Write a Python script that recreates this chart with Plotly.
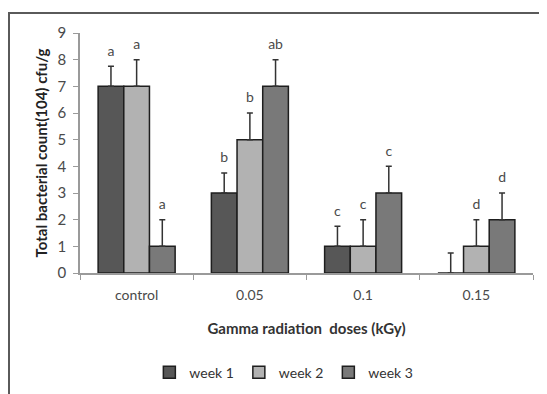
import plotly.graph_objects as go

categories = ["control", "0.05", "0.1", "0.15"]
weeks = ["week 1", "week 2", "week 3"]
values = {
    "week 1": [7, 3, 1, 0],
    "week 2": [7, 5, 1, 1],
    "week 3": [1, 7, 3, 2],
}
errors = {
    "week 1": [0.75, 0.75, 0.75, 0.75],
    "week 2": [1, 1, 1, 1],
    "week 3": [1, 1, 1, 1],
}
letters = {
    "week 1": ["a", "b", "c", ""],
    "week 2": ["a", "b", "c", "d"],
    "week 3": ["a", "ab", "c", "d"],
}
colors = {"week 1": "#575757", "week 2": "#b2b2b2", "week 3": "#797979"}

FONT = "Lato, 'Open Sans', sans-serif"

fig = go.Figure()
for w in weeks:
    fig.add_trace(go.Bar(
        x=categories, y=values[w], name=w,
        marker=dict(color=colors[w], line=dict(color="#1e1e1e", width=1.5)),
        error_y=dict(type="data", array=errors[w], symmetric=False,
                     arrayminus=[0] * len(categories),
                     color="#333333", thickness=1.5, width=3),
        offsetgroup=w,
    ))
for w in weeks:
    tops = [v + e for v, e in zip(values[w], errors[w])]
    fig.add_trace(go.Scatter(
        x=categories, y=tops, mode="markers+text", text=letters[w],
        marker=dict(size=10, opacity=0, color="#4a4a4a"),
        textposition="top center",
        textfont=dict(family=FONT, size=14, color="#4a4a4a"),
        showlegend=False, hoverinfo="skip", offsetgroup=w,
    ))

# page body has an 8px margin; figure sized so plot area lands where the reference has it
W, H = 539, 386
L, R, T, B = 72, 14, 25, 121
PW, PH = W - L - R, H - T - B

fig.update_layout(
    template="none",
    width=W, height=H,
    margin=dict(l=L, r=R, t=T, b=B, autoexpand=False),
    paper_bgcolor="white", plot_bgcolor="white",
    barmode="group", bargap=0.32, bargroupgap=0,
    scattermode="group", scattergap=0.32,
    font=dict(family=FONT, size=12, color="#444444"),
    showlegend=True,
    legend=dict(orientation="h", x=0.45, xanchor="center", y=-0.415, yanchor="middle",
                font=dict(family=FONT, size=14, color="#333333"),
                itemwidth=30, traceorder="normal"),
    xaxis=dict(type="category", categoryorder="array", categoryarray=categories,
               showline=True, linecolor="#9a9a9a", linewidth=1.5, automargin=False,
               ticks="outside", tickson="boundaries", ticklen=5, tickcolor="#9a9a9a",
               ticklabelstandoff=8, showgrid=False, zeroline=False,
               tickfont=dict(size=14, color="#4a4a4a"),
               title=dict(text="<b>Gamma radiation  doses (kGy)</b>", standoff=22,
                          font=dict(size=15, color="#333333"))),
    yaxis=dict(range=[0, 9], dtick=1, showline=True, linecolor="#9a9a9a", linewidth=1.5,
               automargin=False,
               ticks="outside", ticklen=5, tickcolor="#9a9a9a", showgrid=False,
               zeroline=False, ticklabelstandoff=4,
               tickfont=dict(size=15, color="#4a4a4a"),
               title=dict(text="<b>Total bacterial count(104) cfu/g</b>", standoff=6,
                          font=dict(size=15, color="#222222"))),
    shapes=[dict(type="rect", xref="paper", yref="paper",
                 x0=(1 - L) / PW, x1=(W + 20 - L) / PW,
                 y0=-(B + 20) / PH, y1=1 + (T - 5) / PH,
                 line=dict(color="#5a5a5a", width=2), fillcolor="rgba(0,0,0,0)",
                 layer="below")],
)

fig.write_html("out.html")
